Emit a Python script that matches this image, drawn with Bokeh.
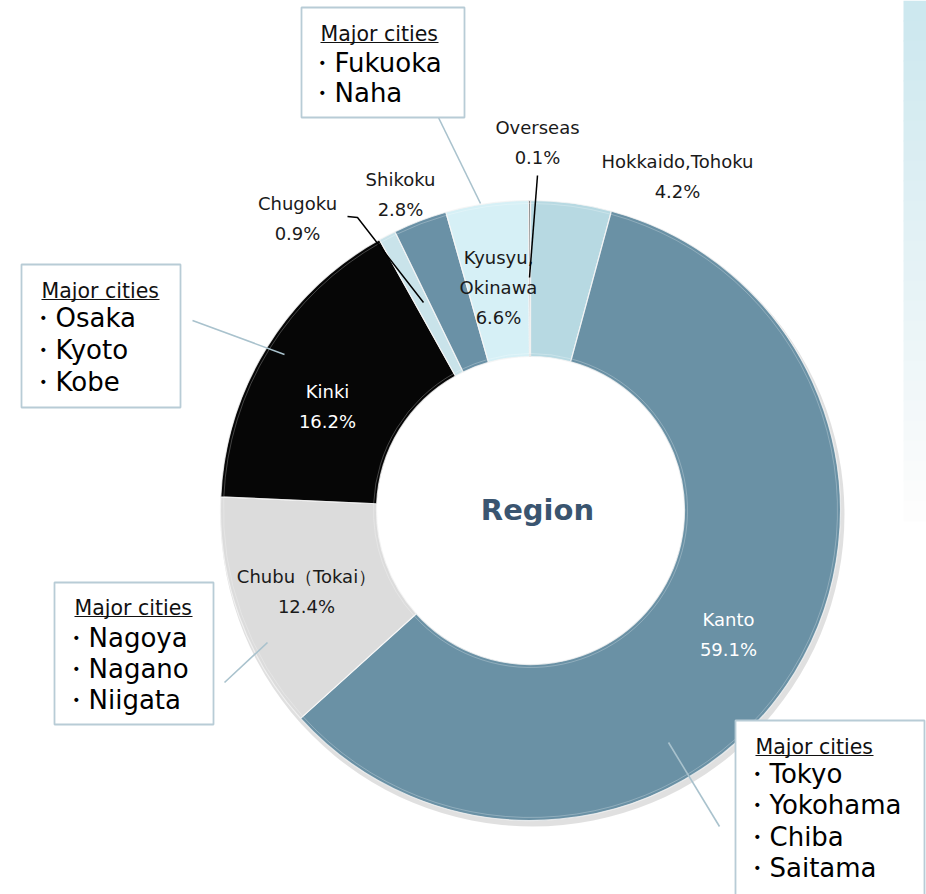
import math
from bokeh.plotting import figure
from bokeh.models import Range1d
from bokeh.embed import file_html
from bokeh.resources import INLINE
from bokeh.core.properties import value

# ---------------- data ----------------
regions = ["Hokkaido,Tohoku", "Kanto", "Chubu（Tokai）", "Kinki",
           "Chugoku", "Shikoku", "Kyusyu,Okinawa", "Overseas"]
label_lines = [["Hokkaido,Tohoku"], ["Kanto"], ["Chubu（Tokai）"], ["Kinki"],
               ["Chugoku"], ["Shikoku"], ["Kyusyu,", "Okinawa"], ["Overseas"]]
pct_labels = ["4.2%", "59.1%", "12.4%", "16.2%", "0.9%", "2.8%", "6.6%", "0.1%"]
# slice sizes as drawn in the picture (share of the ring)
shares = [4.2, 59.1, 12.4, 16.2, 0.9, 2.8, 4.3, 0.1]
colors = ["#b7d9e2", "#6a91a5", "#dcdcdc", "#060606",
          "#c9e3ea", "#6a91a6", "#d6f0f6", "#6e6e6e"]
label_colors = ["#1a1a1a", "#ffffff", "#1a1a1a", "#ffffff",
                "#1a1a1a", "#1a1a1a", "#1a1a1a", "#1a1a1a"]

callout_cities = [["Fukuoka", "Naha"],
                  ["Osaka", "Kyoto", "Kobe"],
                  ["Nagoya", "Nagano", "Niigata"],
                  ["Tokyo", "Yokohama", "Chiba", "Saitama"]]

# ---------------- layout (page pixel coordinates) ----------------
W, H = 926, 894
PAGE_H = 894


def Y(py):
    return PAGE_H - py


CX, CY = 530, 510
R_OUT, R_IN = 310, 154

label_pos = [(677, 161), (728, 619), (306, 576), (327, 391),
             (297, 203), (400, 179), (498, 257), (537, 127)]
line_gap = 30

boxes = [(301, 7, 464, 117), (21, 264, 180, 407), (54, 582, 213, 724), (735, 720, 924, 905)]
box_text_left = [320, 41, 74, 755]
box_head_y = [32, 289, 606, 745]
box_city_y = [[61, 91], [316, 348, 380], [636, 667, 698], [772, 803, 835, 866]]
city_font = 26
leaders = [((436, 113), (480, 203)), ((192, 320), (284, 354)),
           ((224, 682), (267, 642)), ((668, 742), (719, 826))]

p = figure(width=W, height=H, output_backend="svg", toolbar_location=None,
           x_range=Range1d(0, W), y_range=Range1d(PAGE_H - H, PAGE_H),
           min_border=0, background_fill_color="white", border_fill_color="white")
p.axis.visible = False
p.grid.visible = False
p.outline_line_color = None

# right side decorative panel (fading light cyan)
n_strip = 26
for i in range(n_strip):
    t = i / (n_strip - 1)
    r = int(0xcd + (0xfd - 0xcd) * t)
    g = int(0xe8 + (0xfd - 0xe8) * t)
    b = int(0xef + (0xfd - 0xef) * t)
    y0 = i * 20
    p.quad(left=903, right=930, top=Y(y0), bottom=Y(y0 + 21),
           fill_color=f"#{r:02x}{g:02x}{b:02x}", line_color=None)

# shadow under ring
p.annular_wedge(x=CX + 2, y=Y(CY) - 4, inner_radius=R_OUT - 6, outer_radius=R_OUT + 2,
                start_angle=0, end_angle=2 * math.pi, fill_color="#000000",
                fill_alpha=0.12, line_color=None)

# donut slices
total = sum(shares)
cum = 0.0
starts, ends = [], []
for s in shares:
    a0 = math.pi / 2 - 2 * math.pi * cum / total
    cum += s
    a1 = math.pi / 2 - 2 * math.pi * cum / total
    starts.append(a0)
    ends.append(a1)

p.annular_wedge(x=CX, y=Y(CY), inner_radius=R_IN, outer_radius=R_OUT,
                start_angle=starts, end_angle=ends, direction="clock",
                fill_color=colors, line_color="#f4f4f4", line_width=1.2, line_alpha=0.8)
# subtle bevel highlight along edges
p.annular_wedge(x=CX, y=Y(CY), inner_radius=R_IN + 3, outer_radius=R_OUT - 3,
                start_angle=starts, end_angle=ends, direction="clock",
                fill_color=None, line_color="#ffffff", line_width=1, line_alpha=0.25)

# center title
p.text(x=[537], y=[Y(509)], text=["Region"], text_align="center", text_baseline="middle",
       text_font=value("DejaVu Sans"), text_font_style="bold", text_font_size="29px",
       text_color="#3a5570")

# slice labels
for i, (lx, ly) in enumerate(label_pos):
    lines = label_lines[i] + [pct_labels[i]]
    for k, t in enumerate(lines):
        p.text(x=[lx], y=[Y(ly + k * line_gap)], text=[t], text_align="center",
               text_baseline="middle", text_font=value("DejaVu Sans"),
               text_font_size="18px", text_color=label_colors[i])

# pointer lines for tiny slices
p.line(x=[347, 357, 423], y=[Y(216), Y(217), Y(302)], line_color="#000000", line_width=1.5)
p.line(x=[537, 529], y=[Y(175), Y(277)], line_color="#000000", line_width=1.5)

# callout leader lines
for (a, b) in leaders:
    p.line(x=[a[0], b[0]], y=[Y(a[1]), Y(b[1])], line_color="#a9c2cd", line_width=1.6)

# callout boxes
for bi, (x0, y0, x1, y1) in enumerate(boxes):
    p.quad(left=x0, right=x1, top=Y(y0), bottom=Y(y1), fill_color="white",
           line_color="#b8ccd6", line_width=1.8)
    tl = box_text_left[bi]
    hy = box_head_y[bi]
    p.text(x=[tl], y=[Y(hy + 1)], text=["Major cities"], text_align="left",
           text_baseline="middle", text_font=value("DejaVu Sans"),
           text_font_size="20.5px", text_color="#111111")
    p.line(x=[tl, tl + 118], y=[Y(hy + 10), Y(hy + 10)], line_color="#111111", line_width=1.2)
    for ci, city in enumerate(callout_cities[bi]):
        p.text(x=[tl + 14 - city_font], y=[Y(box_city_y[bi][ci] + 1)], text=["・" + city],
               text_align="left", text_baseline="middle", text_font=value("DejaVu Sans"),
               text_font_size=f"{city_font}px", text_color="#000000")

open("out.html", "w").write(file_html(p, INLINE))
